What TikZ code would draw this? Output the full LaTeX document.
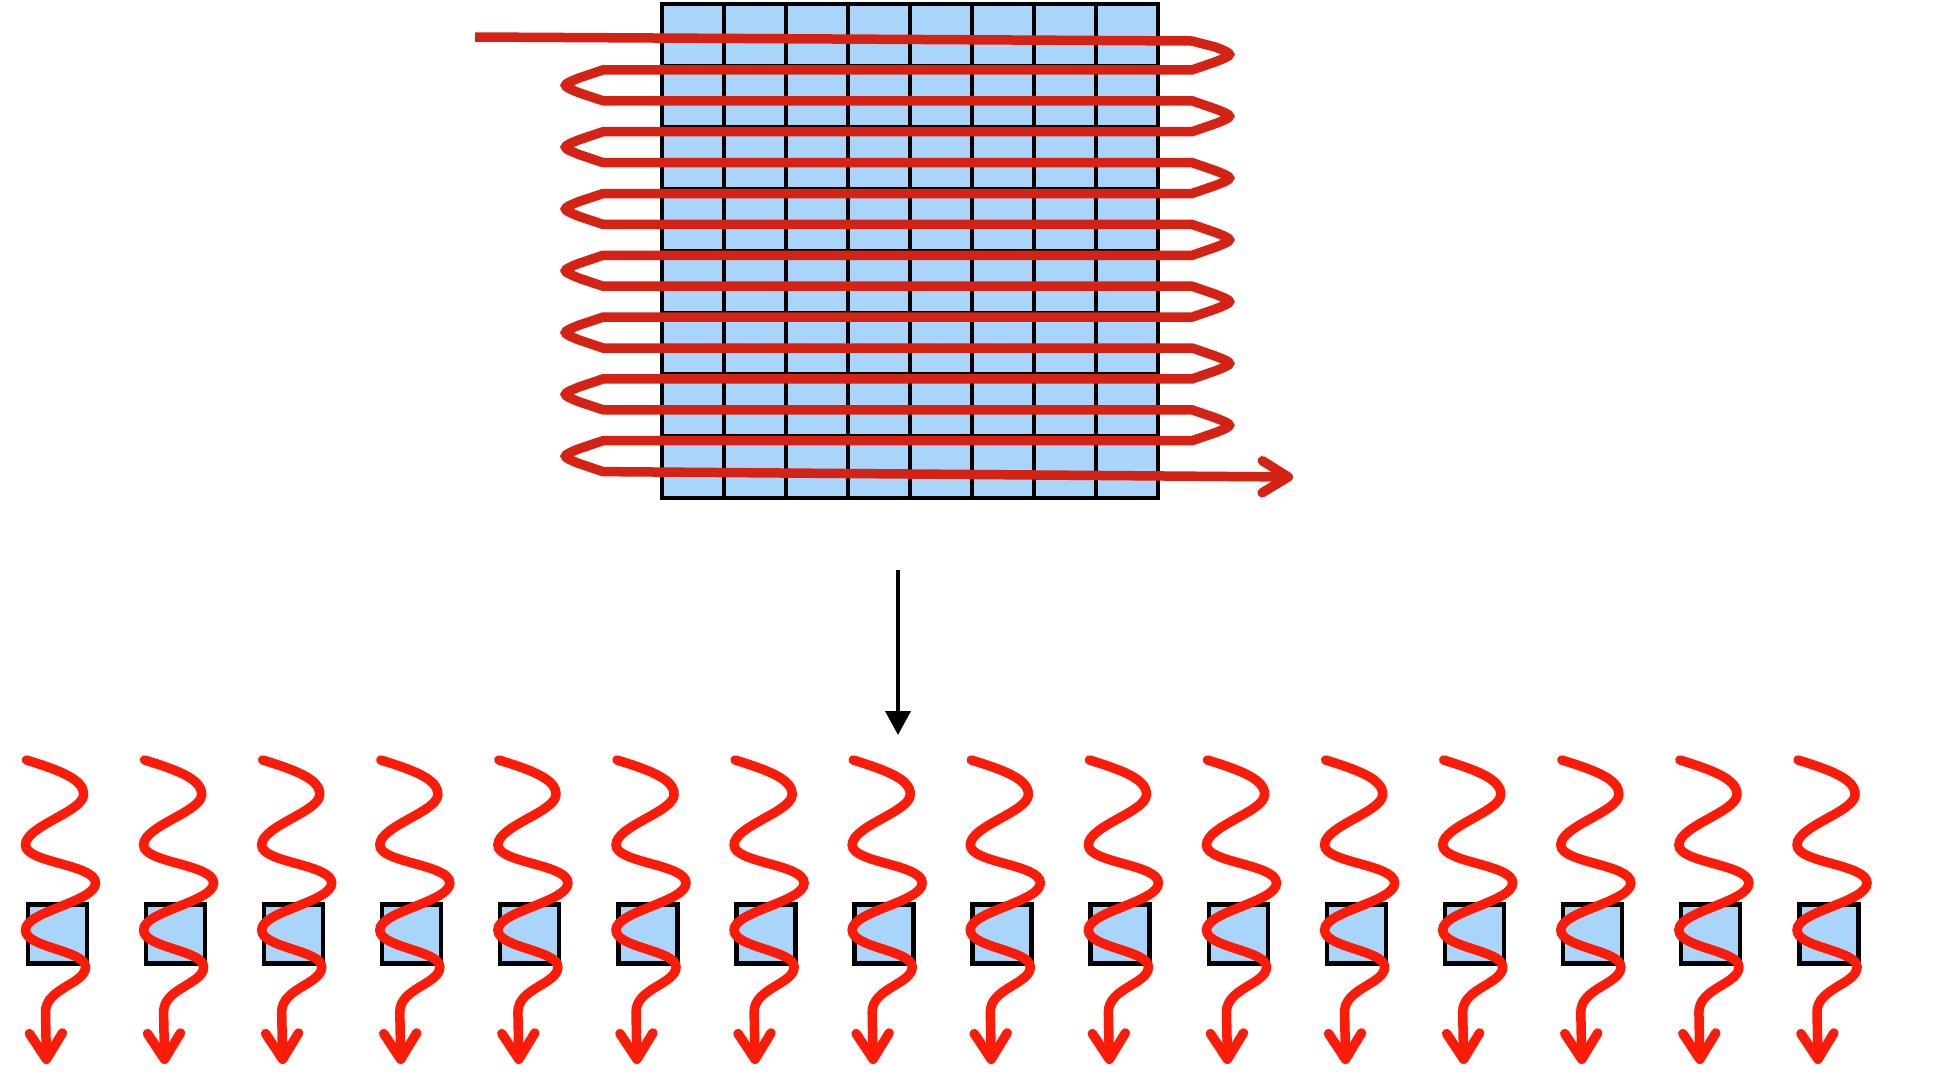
\documentclass[tikz,border=0pt]{standalone}
\usepackage{tikz}
\usetikzlibrary{arrows.meta}
\definecolor{serpRed}{RGB}{212,34,20}
\definecolor{waveRed}{RGB}{250,28,8}
\definecolor{cellBlue}{RGB}{170,213,250}
\tikzset{
  gridln/.style = {line width=4.5pt, black},
  serp/.style   = {line width=9.5pt, serpRed, line join=miter,
                   -{Straight Barb[length=26pt, width=32pt, round]}},
  wave/.style   = {line width=9.5pt, waveRed, line cap=round,
                   -{Straight Barb[length=26pt, width=33pt, round]}},
  sq/.style     = {draw, line width=4.5pt, fill=cellBlue, minimum size=59pt,
                   inner sep=0pt, anchor=north west},
  arr/.style    = {-{Triangle[length=24pt, width=25pt]}, line width=4pt}
}

\begin{document}
\begin{tikzpicture}[x=1pt, y=-1pt]
  \useasboundingbox (0,0) rectangle (1943,1088);

  % Grid
  \fill[cellBlue] (662,4) rectangle (1158,498);
  \foreach \i in {1,...,7}
    \draw[gridln] ({662+62*\i},4) -- ({662+62*\i},498);
  \foreach \j in {1,...,7}
    \draw[gridln] (662,{4+61.75*\j}) -- (1158,{4+61.75*\j});
  \draw[gridln] (662,4) rectangle (1158,498);

  % Scan path
  \draw[serp] (475,37)
    \foreach \k in {0,2,...,12} {
      -- (1192,{39+30.9*\k+2*(\k==0)})
      -- (1215.4,{54.45+30.9*\k-7.4})
      .. controls (1234,{54.45+30.9*\k}) .. (1215.4,{54.45+30.9*\k+7.4})
      -- (1192,{39+30.9*(\k+1)})
      -- (603,{39+30.9*(\k+1)})
      -- (579,{85.35+30.9*\k-7.4})
      .. controls (561,{85.35+30.9*\k}) .. (579,{85.35+30.9*\k+7.4})
      -- (603,{39+30.9*(\k+2)})
    }
    -- (1293,477);

  % Down arrow
  \coordinate (arrtop) at (898,570);
  \coordinate (arrbot) at (898,735);
  \draw[arr] (arrtop) -- (arrbot);

  % Cells with waves
  \foreach \i in {0,...,15} {
    \begin{scope}[shift={({23.5+118.1*\i},0)}]
      \node[sq] (sq\i) at (2,902) {};
      \draw[wave] (3,760) .. controls (35,770) and (61,779) .. (60,795)
        .. controls (59,812) and (2,826) .. (2,845)
        .. controls (2,863) and (72,864) .. (72,883)
        .. controls (72,902) and (2,911) .. (2,930)
        .. controls (2,948) and (62,950) .. (62,967)
        .. controls (62,984) and (22,988) .. (22,1012)
        -- (23,1064);
    \end{scope}
  }
\end{tikzpicture}
\end{document}
